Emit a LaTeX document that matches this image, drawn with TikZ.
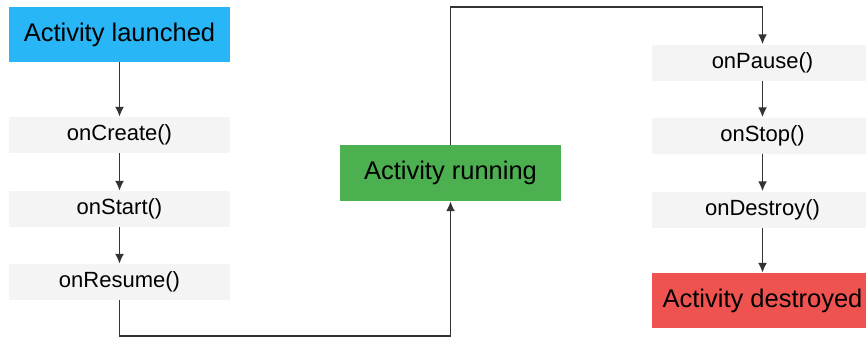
\documentclass[tikz,border=0pt]{standalone}
\usepackage{fontspec}
\setmainfont{Liberation Sans}
\usetikzlibrary{arrows.meta}
\definecolor{launchblue}{HTML}{29B6F6}
\definecolor{rungreen}{HTML}{4CAF50}
\definecolor{deadred}{HTML}{EF5350}
\definecolor{stepgray}{HTML}{F4F4F4}
\definecolor{linegray}{HTML}{333333}
\tikzset{
  state/.style = {
    minimum width=221pt, minimum height=55pt,
    inner sep=0pt, font=\fontsize{25.5}{28}\selectfont
  },
  callback/.style = {
    fill=stepgray, minimum width=221pt, minimum height=36pt,
    inner sep=0pt, font=\fontsize{22}{24}\selectfont
  },
  flow/.style = {
    draw=linegray, line width=1.8pt, ->
  }
}
\tikzset{>={Latex[length=10pt,width=9pt]}}

\begin{document}
\begin{tikzpicture}[x=1pt,y=-1pt]
  \useasboundingbox (0,0) rectangle (866,338);
  % left column
  \node[state,fill=launchblue] (launched) at (119.5,34.5) {Activity launched};
  \node[callback] (create) at (119.5,135) {onCreate()};
  \node[callback] (start)  at (119.5,209) {onStart()};
  \node[callback] (resume) at (119.5,282) {onResume()};
  % middle
  \node[state,fill=rungreen,minimum height=56pt] (running) at (450.5,173) {Activity running};
  % right column
  \node[callback] (pause)   at (762.5,62.5)  {onPause()};
  \node[callback] (stop)    at (762.5,135.5) {onStop()};
  \node[callback] (destroy) at (762.5,209.5) {onDestroy()};
  \node[state,fill=deadred] (destroyed) at (762.5,300.5) {Activity destroyed};

  \coordinate (low)  at (0,336);
  \coordinate (high) at (0,7);

  \draw[flow] (launched) -- (create);
  \draw[flow] (create) -- (start);
  \draw[flow] (start) -- (resume);
  \draw[flow] (resume.south) -- (resume.south |- low) -| (running.south);
  \draw[flow] (running.north) -- (running.north |- high) -| (pause.north);
  \draw[flow] (pause) -- (stop);
  \draw[flow] (stop) -- (destroy);
  \draw[flow] (destroy) -- (destroyed);
\end{tikzpicture}
\end{document}
